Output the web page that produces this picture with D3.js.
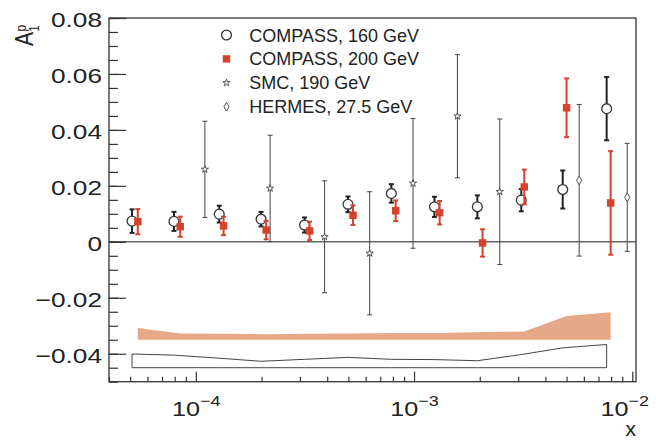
<!DOCTYPE html>
<html>
<head>
<meta charset="utf-8">
<script src="https://cdn.jsdelivr.net/npm/d3@7"></script>
<style>
  body { margin: 0; background: #fff; }
  svg { display: block; font-family: 'Liberation Sans', Arial, Helvetica, sans-serif; }
</style>
</head>
<body>
<div id="chart"></div>
<script>
// values
const compass160X = [5.10e-5, 7.94e-5, 1.28e-4, 1.99e-4, 3.15e-4, 4.98e-4, 7.87e-4, 1.24e-3, 1.95e-3, 3.10e-3, 4.80e-3, 7.63e-3]
const compass160A = [0.0074, 0.0073, 0.0099, 0.0081, 0.0060, 0.0134, 0.0173, 0.0125, 0.0125, 0.0149, 0.0187, 0.0476]
const compass160Err = [0.0042, 0.0034, 0.0030, 0.0026, 0.0027, 0.0028, 0.0033, 0.0036, 0.0041, 0.0040, 0.0068, 0.0113]
const compass160Syst = [0.0049, 0.0045, 0.0034, 0.0023, 0.0030, 0.0037, 0.0030, 0.0029, 0.0025, 0.0047, 0.0071, 0.0083]

const compass200X = [5.42e-5, 8.48e-5, 1.34e-4, 2.10e-4, 3.32e-4, 5.25e-4, 8.24e-4, 1.31e-3, 2.06e-3, 3.20e-3, 5.00e-3, 7.96e-3]
const compass200A = [0.0072, 0.0054, 0.0057, 0.0042, 0.0039, 0.0095, 0.0111, 0.0104, -0.0004, 0.0196, 0.0479, 0.0139]
const compass200Err = [0.0045, 0.0036, 0.0033, 0.0033, 0.0033, 0.0035, 0.0037, 0.0042, 0.0049, 0.0062, 0.0105, 0.0185]
const compass200Syst = [0.0042, 0.0022, 0.0021, 0.0020, 0.0021, 0.0022, 0.0024, 0.0024, 0.0028, 0.0029, 0.0085, 0.0098]

const smcX = [1.10e-4, 2.19e-4, 3.89e-4, 6.26e-4, 9.89e-4, 1.58e-3, 2.47e-3]
const smcA = [0.0259, 0.0191, 0.0018, -0.0041, 0.0209, 0.0449, 0.0179]
const smcErr = [0.0172, 0.0190, 0.0200, 0.0220, 0.0232, 0.0220, 0.0260]

const hermesX = [5.71e-3, 9.48e-3]
const hermesA = [0.0220, 0.0159]
const hermesErr = [0.0271, 0.0193]

// baselines of the systematic bands
const syst200Base = -0.035
const syst160Base = -0.045

const yMajor = [-0.04, -0.02, 0, 0.02, 0.04, 0.06, 0.08]
const yMinor = d3.range(-0.05, 0.0801, 0.005)
const xMajor = [1e-4, 1e-3, 1e-2]
const legendLabels = ['COMPASS, 160 GeV', 'COMPASS, 200 GeV', 'SMC, 190 GeV', 'HERMES, 27.5 GeV']

const width = 656
const height = 441
const frame = { left: 109, right: 636, top: 18, bottom: 381.7 }
const red = '#d5432e'
const dark = '#222'

const svg = d3.select('#chart').append('svg')
  .attr('width', width)
  .attr('height', height)

const x = d3.scaleLog().domain([4e-5, 0.0104]).range([frame.left, frame.right])
const y = d3.scaleLinear().domain([-0.05, 0.08]).range([frame.bottom, frame.top])

// systematic bands
const band200 = d3.area()
  .x((d, i) => x(compass200X[i]))
  .y0(y(syst200Base))
  .y1(d => y(syst200Base + d))
svg.append('path')
  .attr('d', band200(compass200Syst))
  .attr('fill', '#e6a886')

const band160 = d3.area()
  .x((d, i) => x(compass160X[i]))
  .y0(y(syst160Base))
  .y1(d => y(syst160Base + d))
svg.append('path')
  .attr('d', band160(compass160Syst) + 'Z')
  .attr('fill', 'none')
  .attr('stroke', '#444')
  .attr('stroke-width', 1)

// zero line
svg.append('line')
  .attr('x1', x.range()[0]).attr('x2', x.range()[1])
  .attr('y1', y(0)).attr('y2', y(0))
  .attr('stroke', '#666')
  .attr('stroke-width', 1.5)

const diamond = {
  draw (ctx, size) {
    const h = Math.sqrt(size)
    ctx.moveTo(0, -h * 0.9)
    ctx.lineTo(h * 0.5, 0)
    ctx.lineTo(0, h * 0.9)
    ctx.lineTo(-h * 0.5, 0)
    ctx.closePath()
  }
}

const markers = [
  { sym: d3.symbol(d3.symbolCircle, 76), fill: '#fff', stroke: '#333', sw: 1.3 },
  { sym: d3.symbol(d3.symbolSquare, 56), fill: red, stroke: 'none', sw: 0 },
  { sym: d3.symbol(d3.symbolStar, 16), fill: '#fff', stroke: '#444', sw: 0.9 },
  { sym: d3.symbol(diamond, 25), fill: '#fff', stroke: '#444', sw: 0.9 }
]

function drawSeries (xs, as, errs, marker, barColor, barWidth) {
  const g = svg.append('g')
  const pts = g.selectAll('g').data(as).enter().append('g')
    .attr('transform', (d, i) => `translate(${x(xs[i])},0)`)
  pts.append('line')
    .attr('y1', (d, i) => y(d - errs[i]))
    .attr('y2', (d, i) => y(d + errs[i]))
    .attr('stroke', barColor)
    .attr('stroke-width', barWidth)
  ;[-1, 1].forEach(s => {
    pts.append('line')
      .attr('x1', -2.5).attr('x2', 2.5)
      .attr('y1', (d, i) => y(d + s * errs[i]))
      .attr('y2', (d, i) => y(d + s * errs[i]))
      .attr('stroke', barColor)
      .attr('stroke-width', barWidth)
  })
  pts.append('path')
    .attr('d', marker.sym())
    .attr('transform', d => `translate(0,${y(d)})`)
    .attr('fill', marker.fill)
    .attr('stroke', marker.stroke)
    .attr('stroke-width', marker.sw)
}

drawSeries(smcX, smcA, smcErr, markers[2], '#444', 1)
drawSeries(hermesX, hermesA, hermesErr, markers[3], '#444', 1)
drawSeries(compass160X, compass160A, compass160Err, markers[0], dark, 2)
drawSeries(compass200X, compass200A, compass200Err, markers[1], red, 2)

// frame
svg.append('rect')
  .attr('x', frame.left).attr('y', frame.top)
  .attr('width', frame.right - frame.left)
  .attr('height', frame.bottom - frame.top)
  .attr('fill', 'none')
  .attr('stroke', '#333')
  .attr('stroke-width', 1.3)

// y axis
const yMinorAxis = svg.append('g')
  .attr('transform', `translate(${frame.left},0)`)
  .call(d3.axisLeft(y).tickValues(yMinor).tickSizeInner(-9).tickSizeOuter(0).tickFormat(''))
const yAxis = svg.append('g')
  .attr('transform', `translate(${frame.left},0)`)
  .call(d3.axisLeft(y).tickValues(yMajor).tickSizeInner(-17).tickSizeOuter(0)
    .tickFormat(d => d === 0 ? '0' : d3.format('.2f')(d).replace('-', '\u2212')))
yAxis.selectAll('.tick text')
  .attr('x', -7 / 1.25)
  .attr('dy', '0.42em')
  .attr('transform', 'scale(1.25,1)')
  .style('font-size', '21px')
  .attr('fill', dark)

// x axis
const xMinorAxis = svg.append('g')
  .attr('transform', `translate(0,${frame.bottom})`)
  .call(d3.axisBottom(x).tickValues(x.ticks().filter(t => !xMajor.includes(t))).tickSizeInner(-5).tickSizeOuter(0).tickFormat(''))
const xAxis = svg.append('g')
  .attr('transform', `translate(0,${frame.bottom})`)
  .call(d3.axisBottom(x).tickValues(xMajor).tickSizeInner(-10).tickSizeOuter(0).tickFormat(''))
xAxis.selectAll('.tick text')
  .attr('x', d => d === 1e-2 ? -8 / 1.2 : 0)
  .attr('y', 34)
  .attr('dy', 0)
  .attr('transform', 'scale(1.2,1)')
  .attr('fill', dark)
  .each(function (d) {
    const t = d3.select(this)
    t.append('tspan').text('10').style('font-size', '21px')
    t.append('tspan').text('\u2212' + Math.round(-Math.log10(d)))
      .attr('dy', -10).style('font-size', '15px')
  })

;[yMinorAxis, yAxis, xMinorAxis, xAxis].forEach(a => {
  a.select('.domain').remove()
  a.selectAll('.tick line').attr('stroke', '#333').attr('stroke-width', 1.2)
})

// axis titles
svg.append('text')
  .attr('x', frame.right)
  .attr('y', 436)
  .attr('text-anchor', 'end')
  .style('font-size', '21px')
  .attr('fill', dark)
  .text('x')

const yTitle = svg.append('g')
  .attr('transform', 'translate(33,46) scale(1.27,1) rotate(-90)')
  .attr('fill', dark)
yTitle.append('text').style('font-size', '21px').text('A')
yTitle.append('text').attr('x', 14.5).attr('y', 5).style('font-size', '11px').text('1')
yTitle.append('text').attr('x', 14.5).attr('y', -5.5).style('font-size', '12px').text('p')

// legend
const legend = svg.append('g')
const rows = legend.selectAll('g').data(legendLabels).enter().append('g')
  .attr('transform', (d, i) => `translate(226.5,${35 + i * 23.9})`)
rows.append('path')
  .attr('d', (d, i) => markers[i].sym())
  .attr('fill', (d, i) => markers[i].fill)
  .attr('stroke', (d, i) => markers[i].stroke)
  .attr('stroke-width', (d, i) => markers[i].sw)
rows.append('text')
  .attr('x', 22.8)
  .attr('y', 6.5)
  .style('font-size', '18px')
  .attr('fill', dark)
  .text(d => d)
</script>
</body>
</html>
